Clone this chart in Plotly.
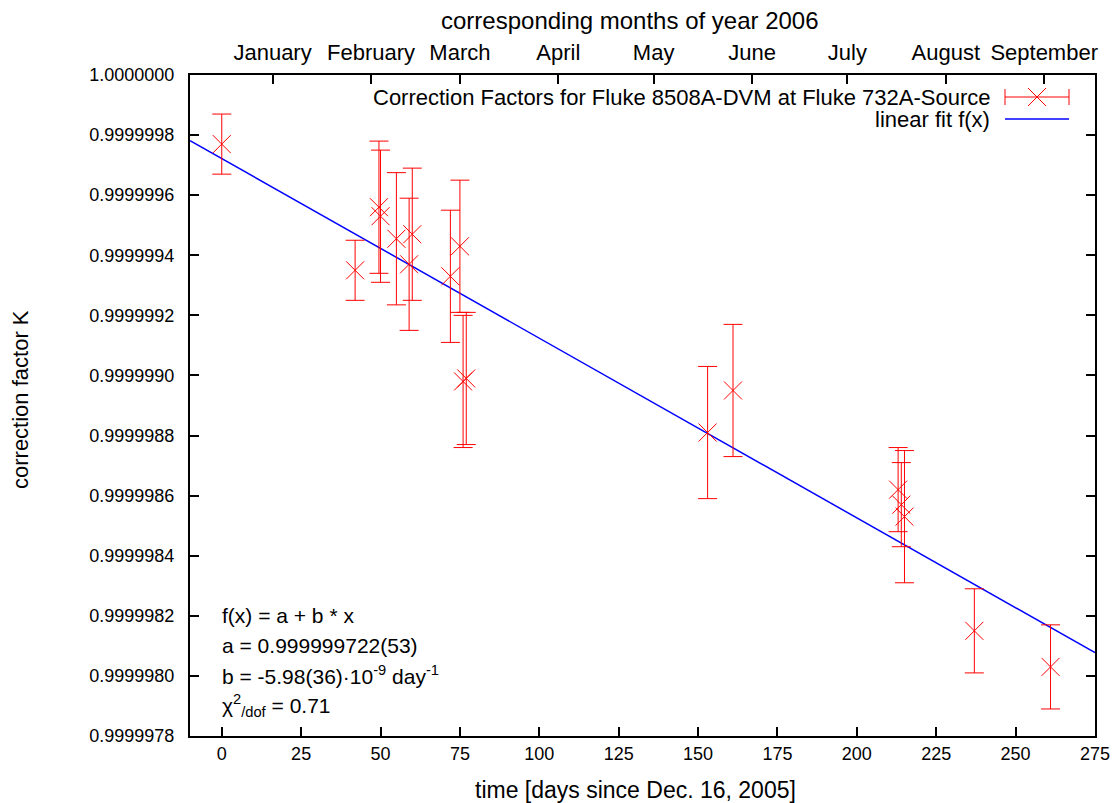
import numpy as np
import plotly.graph_objects as go

# Measured correction factors (days since Dec. 16, 2005)
days = [0, 42, 49.5, 50, 55, 59, 60, 72, 75, 76, 77, 153, 161, 213, 214, 215, 237, 261]
k_values = [0.99999977, 0.99999935, 0.99999956, 0.99999953, 0.999999455, 0.99999937,
            0.99999947, 0.99999933, 0.99999943, 0.99999898, 0.99999899, 0.99999881,
            0.99999895, 0.99999862, 0.99999857, 0.99999853, 0.99999815, 0.99999803]
k_errors = [1.0e-7, 1.0e-7, 2.2e-7, 2.2e-7, 2.2e-7, 2.2e-7, 2.2e-7, 2.2e-7, 2.2e-7,
            2.2e-7, 2.2e-7, 2.2e-7, 2.2e-7, 1.4e-7, 1.4e-7, 2.2e-7, 1.4e-7, 1.4e-7]

# Linear fit parameters
fit_a = 0.999999722
fit_b = -5.98e-9

# Axes
x_range = [-10, 275]
x_ticks = list(range(0, 276, 25))
y_range = [0.9999978, 1.0000000]
month_days = [16, 47, 75, 106, 136, 167, 197, 228, 259]
month_names = ['January', 'February', 'March', 'April', 'May', 'June', 'July', 'August', 'September']

font_family = 'Liberation Sans, Arial, sans-serif'

# page has an 8px body margin, so the figure is a bit smaller than the window
W, H = 1110, 795
L, R, T, B = 182, 23, 67, 67
OFF = 8
PLOT_L, PLOT_T = L + OFF, T + OFF
PLOT_W, PLOT_H = W - L - R, H - T - B


def px(x):
    return (x - PLOT_L) / PLOT_W


def py(y):
    return (PLOT_T + PLOT_H - y) / PLOT_H


fig = go.Figure()

# Fit line
fit_x = np.array(x_range, dtype=float)
fig.add_trace(go.Scatter(x=fit_x, y=fit_a + fit_b * fit_x, mode='lines',
                         line=dict(color='#0000ff', width=1.5), name='linear fit f(x)',
                         hoverinfo='skip'))

# Data with error bars
fig.add_trace(go.Scatter(x=days, y=k_values, mode='markers',
                         marker=dict(symbol='x-thin', size=18, color='#ff0000',
                                     line=dict(color='#ff0000', width=1)),
                         error_y=dict(type='data', array=k_errors, visible=True,
                                      color='#ff0000', thickness=1, width=9.5),
                         name='Correction Factors for Fluke 8508A-DVM at Fluke 732A-Source'))

# Invisible trace on the top axis so it gets drawn
fig.add_trace(go.Scatter(x=x_range, y=y_range, xaxis='x2', mode='markers',
                         marker=dict(opacity=0), showlegend=False, hoverinfo='skip'))

fig.update_layout(
    width=W, height=H,
    margin=dict(l=L, r=R, t=T, b=B, autoexpand=False),
    plot_bgcolor='white', paper_bgcolor='white',
    showlegend=False,
    font=dict(family=font_family, size=18, color='black'),
    xaxis=dict(range=x_range, tickmode='array', tickvals=x_ticks,
               ticks='inside', ticklen=9, tickwidth=1.5, tickcolor='black',
               showline=True, linewidth=2, linecolor='black', mirror=False,
               showgrid=False, zeroline=False, tickfont=dict(size=18)),
    xaxis2=dict(range=x_range, overlaying='x', side='top', anchor='y',
                tickmode='array', tickvals=month_days, ticktext=month_names,
                ticks='inside', ticklen=9, tickwidth=1.5, tickcolor='black',
                showline=True, linewidth=2, linecolor='black',
                showgrid=False, zeroline=False, tickfont=dict(size=22),
                ticklabelstandoff=4),
    yaxis=dict(range=y_range, tickmode='linear', tick0=0.9999978, dtick=2e-7,
               tickformat='.7f', ticks='inside', ticklen=9, tickwidth=1.5,
               tickcolor='black', showline=True, linewidth=2, linecolor='black',
               mirror='ticks', showgrid=False, zeroline=False,
               tickfont=dict(size=18), ticklabelstandoff=10),
)

ann = []
# Axis titles
ann.append(dict(text='correction factor K', x=px(20), y=py(400), textangle=-90, size=22))
ann.append(dict(text='time [days since Dec. 16, 2005]', x=px(635), y=py(790), size=23))
ann.append(dict(text='corresponding months of year 2006', x=px(630), y=py(20), size=24))

# Fit info block
info_lines = ['f(x) = a + b * x',
              'a = 0.999999722(53)',
              'b = -5.98(36)·10<sup>-9</sup> day<sup>-1</sup>',
              'χ<sup>2</sup><sub>/dof</sub> = 0.71']
for i, line in enumerate(info_lines):
    ann.append(dict(text=line, x=px(220), y=py(615 + 30 * i), xanchor='left', size=21))

# Legend text (gnuplot style, key on the right)
ann.append(dict(text='Correction Factors for Fluke 8508A-DVM at Fluke 732A-Source',
                x=px(992), y=py(97), xanchor='right', size=22))
ann.append(dict(text='linear fit f(x)', x=px(992), y=py(119), xanchor='right', size=22))

for a in ann:
    a.setdefault('xanchor', 'center')
    size = a.pop('size')
    a.update(xref='paper', yref='paper', yanchor='middle', showarrow=False,
             font=dict(family=font_family, size=size, color='black'))
    fig.add_annotation(**a)

# Legend keys
red = dict(color='#ff0000', width=1)
shapes = [
    dict(x0=px(1005), x1=px(1069), y0=py(97), y1=py(97), line=red),
    dict(x0=px(1005), x1=px(1005), y0=py(89), y1=py(105), line=red),
    dict(x0=px(1069), x1=px(1069), y0=py(89), y1=py(105), line=red),
    dict(x0=px(1028), x1=px(1046), y0=py(88), y1=py(106), line=red),
    dict(x0=px(1028), x1=px(1046), y0=py(106), y1=py(88), line=red),
    dict(x0=px(1005), x1=px(1069), y0=py(119), y1=py(119), line=dict(color='#0000ff', width=1.5)),
]
for s in shapes:
    fig.add_shape(type='line', xref='paper', yref='paper', **s)

fig.write_html('out.html')
